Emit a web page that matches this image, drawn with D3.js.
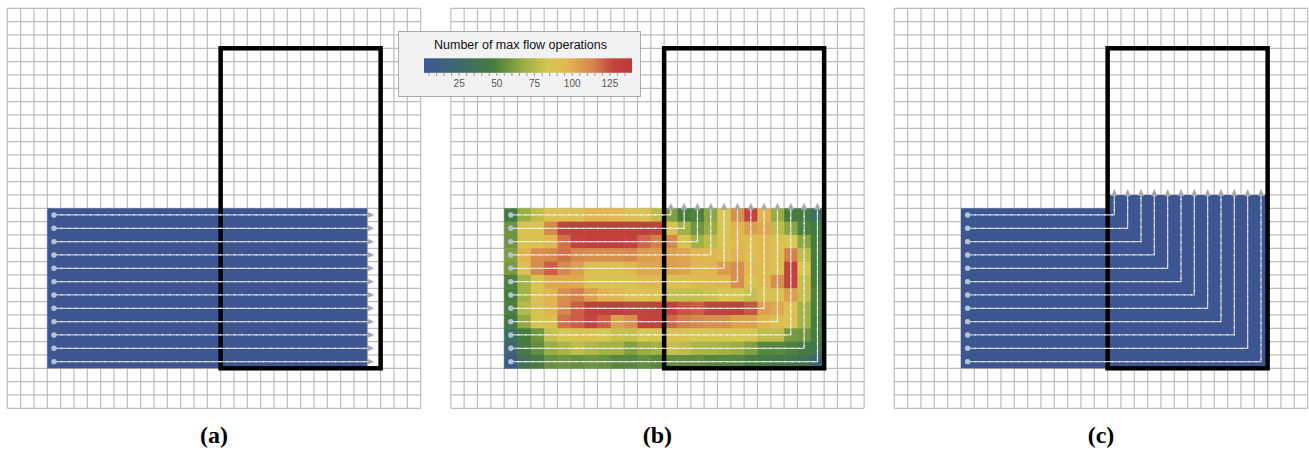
<!DOCTYPE html>
<html>
<head>
<meta charset="utf-8">
<script src="https://cdn.jsdelivr.net/npm/d3@7"></script>
<style>
  body { margin: 0; background: #fff; }
  svg { display: block; }
</style>
</head>
<body>
<svg id="chart" width="1309" height="451"></svg>
<script>
// grid size (cells)
const gridCols = 31;
const gridRows = 30;

// obstacle box, in grid cells
const boxCols = [16, 28];
const boxRows = [3, 27];

// flow rows (12 sources), turning columns for panels b and c
const flowRows = [15, 16, 17, 18, 19, 20, 21, 22, 23, 24, 25, 26];
const turnCols = [16, 17, 18, 19, 20, 21, 22, 23, 24, 25, 26, 27];

// regions: [col0, col1, row0, row1]
const regionA = [3, 27, 15, 27];
const regionC = [[5, 16, 15, 27], [16, 28, 14, 27]];
const heatCol0 = 4;
const heatRow0 = 15;

// number of max flow operations per cell (panel b), rows 15..26, cols 4..27
const heatValues = [
  [45, 68, 78, 88, 88, 88, 97, 97, 95, 90, 88, 78, 62, 48, 50, 65, 85, 110, 128, 98, 68, 48, 45, 30],
  [58, 88, 88, 112, 128, 132, 132, 132, 132, 132, 132, 130, 88, 70, 58, 68, 85, 98, 105, 102, 78, 65, 50, 45],
  [58, 88, 88, 97, 118, 130, 132, 132, 132, 130, 120, 115, 112, 88, 70, 78, 88, 95, 90, 95, 88, 85, 65, 48],
  [62, 98, 110, 112, 118, 112, 110, 110, 110, 112, 105, 105, 105, 103, 97, 95, 90, 98, 90, 95, 90, 115, 78, 48],
  [60, 90, 112, 122, 112, 105, 90, 90, 90, 95, 102, 102, 105, 103, 97, 97, 106, 110, 95, 92, 90, 130, 85, 48],
  [50, 70, 88, 102, 102, 102, 88, 88, 88, 88, 95, 95, 90, 90, 92, 95, 97, 110, 88, 95, 110, 130, 80, 48],
  [48, 70, 88, 97, 110, 115, 105, 98, 97, 88, 88, 88, 80, 80, 80, 82, 85, 85, 80, 88, 90, 105, 80, 50],
  [50, 76, 88, 98, 112, 122, 132, 132, 132, 130, 130, 130, 132, 124, 122, 130, 130, 132, 124, 105, 102, 88, 70, 50],
  [45, 66, 88, 90, 118, 122, 128, 122, 105, 110, 128, 130, 120, 115, 112, 110, 110, 105, 105, 98, 90, 88, 70, 48],
  [30, 48, 58, 80, 85, 88, 88, 85, 80, 80, 85, 85, 88, 88, 85, 85, 85, 85, 85, 78, 78, 60, 58, 48],
  [22, 45, 55, 68, 72, 78, 74, 70, 70, 62, 68, 70, 80, 78, 72, 72, 70, 68, 62, 52, 52, 50, 45, 40],
  [10, 35, 45, 56, 58, 56, 58, 56, 52, 52, 55, 52, 55, 55, 55, 52, 52, 52, 48, 45, 42, 40, 35, 20]
];

// colour bar
const colorDomain = [2, 140];
const colorStops = [2, 25, 48, 70, 85, 98, 115, 127, 140];
const colorRange = ['#3c5594', '#3d6a6c', '#467c3e', '#a2b244', '#d6c652', '#e2b450', '#d4804c', '#c4453f', '#bb393b'];
const colorTicks = [25, 50, 75, 100, 125];

const panelLabels = ['(a)', '(b)', '(c)'];

const svg = d3.select('#chart');
const cell = 400 / gridRows;
const panelX = [7.3, 450.8, 894.3];
const gridTop = 8.3;
const blue = '#3d5691';

const color = d3.scaleLinear().domain(colorStops).range(colorRange).clamp(true);

function drawGrid(g, x, y) {
  g.append('g')
    .selectAll('line')
    .data(d3.range(gridCols + 1))
    .enter()
    .append('line')
    .attr('x1', (d) => x(d))
    .attr('x2', (d) => x(d))
    .attr('y1', y(0))
    .attr('y2', y(gridRows))
    .attr('stroke', '#bdbdbd')
    .attr('stroke-width', 1.2);
  g.append('g')
    .selectAll('line')
    .data(d3.range(gridRows + 1))
    .enter()
    .append('line')
    .attr('x1', x(0))
    .attr('x2', x(gridCols))
    .attr('y1', (d) => y(d))
    .attr('y2', (d) => y(d))
    .attr('stroke', '#bdbdbd')
    .attr('stroke-width', 1.2);
}

function drawRegion(g, x, y, r) {
  g.append('rect')
    .attr('x', x(r[0]))
    .attr('y', y(r[2]))
    .attr('width', x(r[1]) - x(r[0]))
    .attr('height', y(r[3]) - y(r[2]))
    .attr('fill', blue);
}

function drawBox(g, x, y) {
  g.append('rect')
    .attr('x', x(boxCols[0]))
    .attr('y', y(boxRows[0]))
    .attr('width', x(boxCols[1]) - x(boxCols[0]))
    .attr('height', y(boxRows[1]) - y(boxRows[0]))
    .attr('fill', 'none')
    .attr('stroke', '#000')
    .attr('stroke-width', 4.5);
}

// flow paths: points in grid units, arrow direction at end
function drawFlows(g, x, y, paths, dir, lineColor) {
  const line = d3.line().x((d) => x(d[0])).y((d) => y(d[1]));
  const fg = g.append('g');
  paths.forEach((p) => {
    const px = p.map((d) => [x(d[0]), y(d[1])]);
    fg.append('path')
      .attr('d', line(p))
      .attr('fill', 'none')
      .attr('stroke', lineColor)
      .attr('stroke-width', 1.2);
    fg.append('path')
      .attr('d', line(p))
      .attr('fill', 'none')
      .attr('stroke', '#ffffff')
      .attr('stroke-width', 1.2)
      .attr('stroke-dasharray', '1.2,6');
    const e = px[px.length - 1];
    let tri;
    if (dir === 'right') {
      tri = [[e[0], e[1] - 3.2], [e[0] + 7, e[1]], [e[0], e[1] + 3.2]];
    } else {
      tri = [[e[0] - 3.2, e[1]], [e[0], e[1] - 7], [e[0] + 3.2, e[1]]];
    }
    fg.append('path')
      .attr('d', 'M' + tri.join('L') + 'Z')
      .attr('fill', '#a3a7b0');
    fg.append('circle')
      .attr('cx', px[0][0])
      .attr('cy', px[0][1])
      .attr('r', 2.7)
      .attr('fill', '#b7c1d6');
  });
}

panelX.forEach((x0, i) => {
  const x = d3.scaleLinear().domain([0, gridCols]).range([x0, x0 + gridCols * cell]);
  const y = d3.scaleLinear().domain([0, gridRows]).range([gridTop, gridTop + gridRows * cell]);
  const g = svg.append('g');

  drawGrid(g, x, y);

  if (i === 0) {
    drawRegion(g, x, y, regionA);
    drawBox(g, x, y);
    const paths = flowRows.map((r) => [[regionA[0] + 0.5, r + 0.5], [regionA[1], r + 0.5]]);
    drawFlows(g, x, y, paths, 'right', '#c9ccd6');
  } else if (i === 1) {
    heatValues.forEach((row, r) => {
      g.append('g')
        .selectAll('rect')
        .data(row)
        .enter()
        .append('rect')
        .attr('x', (d, c) => x(heatCol0 + c))
        .attr('y', y(heatRow0 + r))
        .attr('width', cell + 0.4)
        .attr('height', cell + 0.4)
        .attr('fill', (d) => color(d));
    });
    drawBox(g, x, y);
    const yEnd = y.invert(y(heatRow0) + 1.5);
    const paths = flowRows.map((r, k) => [
      [heatCol0 + 0.5, r + 0.5],
      [turnCols[k] + 0.5, r + 0.5],
      [turnCols[k] + 0.5, yEnd]
    ]);
    drawFlows(g, x, y, paths, 'up', 'rgba(236,236,240,0.85)');
  } else {
    regionC.forEach((r) => drawRegion(g, x, y, r));
    drawBox(g, x, y);
    const yEnd = y.invert(y(regionC[1][2]) + 1);
    const paths = flowRows.map((r, k) => [
      [regionC[0][0] + 0.5, r + 0.5],
      [turnCols[k] + 0.5, r + 0.5],
      [turnCols[k] + 0.5, yEnd]
    ]);
    drawFlows(g, x, y, paths, 'up', '#c9ccd6');
  }

  // panel label
  svg.append('text')
    .attr('x', (x(0) + x(gridCols)) / 2)
    .attr('y', 443)
    .attr('text-anchor', 'middle')
    .attr('font-family', '"Liberation Serif", "Times New Roman", serif')
    .attr('font-weight', 'bold')
    .attr('font-size', '24px')
    .text(panelLabels[i]);
});

// legend
const legend = svg.append('g');
legend.append('rect')
  .attr('x', 398.5)
  .attr('y', 31.5)
  .attr('width', 242)
  .attr('height', 65)
  .attr('fill', '#f2f2f2')
  .attr('stroke', '#aaaaaa')
  .attr('stroke-width', 1);

legend.append('text')
  .attr('x', 520.5)
  .attr('y', 49)
  .attr('text-anchor', 'middle')
  .attr('font-family', '"Liberation Sans", Arial, sans-serif')
  .attr('font-size', '12.5px')
  .attr('fill', '#111')
  .text('Number of max flow operations');

const cbScale = d3.scaleLinear().domain(colorDomain).range([424, 632]);

const grad = svg.append('defs')
  .append('linearGradient')
  .attr('id', 'cbar')
  .attr('x1', '0%')
  .attr('x2', '100%');
d3.range(0, 1.0001, 0.02).forEach((t) => {
  const v = colorDomain[0] + t * (colorDomain[1] - colorDomain[0]);
  grad.append('stop').attr('offset', t * 100 + '%').attr('stop-color', color(v));
});

legend.append('rect')
  .attr('x', cbScale(colorDomain[0]))
  .attr('y', 58.3)
  .attr('width', cbScale(colorDomain[1]) - cbScale(colorDomain[0]))
  .attr('height', 14.5)
  .attr('fill', 'url(#cbar)');

const cbAxis = legend.append('g')
  .attr('transform', 'translate(0,73)')
  .call(
    d3.axisBottom(cbScale)
      .tickValues(d3.range(5, 140, 5))
      .tickSize(3)
      .tickPadding(3.5)
      .tickFormat((d) => (colorTicks.includes(d) ? d : ''))
  );
cbAxis.select('.domain').remove();
cbAxis.selectAll('line').attr('stroke', '#999');
cbAxis.selectAll('text')
  .attr('fill', '#555')
  .attr('font-family', '"Liberation Sans", Arial, sans-serif')
  .attr('font-size', '10px');
</script>
</body>
</html>
